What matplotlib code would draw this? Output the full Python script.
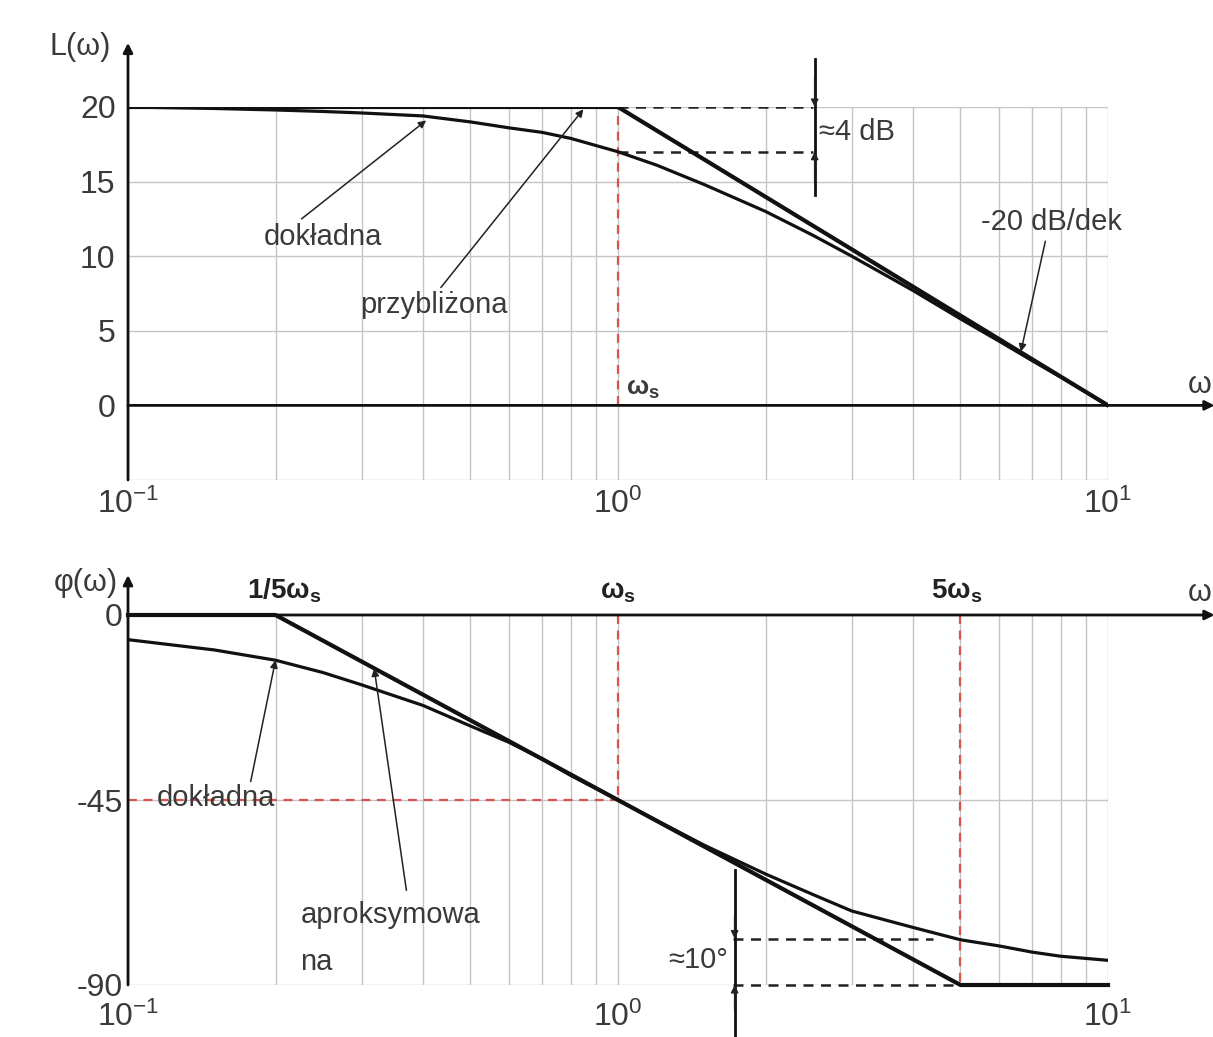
import matplotlib
matplotlib.use("Agg")
import matplotlib.pyplot as plt
from matplotlib.ticker import LogLocator, NullFormatter

plt.rcParams['font.family'] = ['Liberation Sans', 'DejaVu Sans']
plt.rcParams['mathtext.fontset'] = 'custom'
plt.rcParams['mathtext.rm'] = 'Liberation Sans'
plt.rcParams['mathtext.it'] = 'Liberation Sans:italic'
plt.rcParams['mathtext.bf'] = 'Liberation Sans:bold'
plt.rcParams['axes.unicode_minus'] = False

########################################################################
# values

omega = [0.1, 0.15, 0.2, 0.25, 0.3, 0.4, 0.5, 0.6, 0.7, 0.8, 1.0, 1.2, 1.5,
         2.0, 2.5, 3.0, 4.0, 5.0, 6.0, 7.0, 8.0, 10.0]
L_exact = [20.0, 19.9, 19.8, 19.7, 19.6, 19.4, 19.0, 18.6, 18.3, 17.9, 17.0,
           16.1, 14.8, 13.0, 11.4, 10.0, 7.7, 5.8, 4.3, 3.0, 1.9, 0.0]
phi_exact = [-6, -8.5, -11, -14, -17, -22, -27, -31, -35, -39, -45, -50, -56,
             -63, -68, -72, -76, -79, -80.5, -82, -83, -84]

omega_L_asym = [0.1, 1.0, 10.0]
L_asym = [20, 20, 0]

omega_phi_asym = [0.1, 0.2, 5.0, 10.0]
phi_asym = [0, 0, -90, -90]

L_ticks = [0, 5, 10, 15, 20]
phi_ticks = [-90, -45, 0]
w_ticks = [0.1, 1, 10]
w_labels = [r'$10^{-1}$', r'$10^{0}$', r'$10^{1}$']

########################################################################

TXT = '#3a3a3a'
GRID = '#c4c4c4'
RED = '#d9534f'
DASH = (0, (4, 3))


def setup_axes(ax, ylim, yticks, grid_y):
    ax.set_xscale('log')
    ax.set_xlim(0.1, 10)
    ax.set_ylim(*ylim)
    for s in ax.spines.values():
        s.set_visible(False)
    ax.xaxis.set_minor_locator(LogLocator(base=10, subs=range(2, 10)))
    ax.xaxis.set_minor_formatter(NullFormatter())
    ax.set_xticks(w_ticks)
    ax.set_xticklabels(w_labels)
    ax.set_yticks(yticks)
    ax.tick_params(which='both', length=0, labelsize=23, labelcolor=TXT)
    ax.tick_params(axis='x', pad=6)
    ax.tick_params(axis='y', pad=4)
    ax.grid(True, which='both', axis='x', color=GRID, lw=1, zorder=0.5)
    for y in grid_y:
        ax.axhline(y, color=GRID, lw=1, zorder=0.5)


def axis_arrow(ax, start, end):
    ax.annotate('', xy=end, xytext=start, annotation_clip=False,
                arrowprops=dict(arrowstyle='-|>', color='#111', lw=2,
                                mutation_scale=14, shrinkA=0, shrinkB=0))


def pointer(ax, text_xy, head_xy):
    ax.annotate('', xy=head_xy, xytext=text_xy, annotation_clip=False,
                arrowprops=dict(arrowstyle='-|>', color='#222', lw=1.1,
                                mutation_scale=11, shrinkA=0, shrinkB=0))


fig = plt.figure(figsize=(12.13, 10.37), dpi=100)
ax1 = fig.add_axes([128 / 1213, (1037 - 480) / 1037, 980 / 1213, 373 / 1037])
ax2 = fig.add_axes([128 / 1213, (1037 - 985) / 1037, 980 / 1213, 370 / 1037])

# ---------------- amplitude ----------------
setup_axes(ax1, (-5, 20), L_ticks, [-5, 5, 10, 15, 20])
ax1.tick_params(axis='y', pad=9)
ax1.plot([1, 1], [0, 20], ls=DASH, color=RED, lw=1.6, zorder=2)
ax1.plot(omega, L_exact, color='#111', lw=2.3, zorder=3)
ax1.plot(omega_L_asym, L_asym, color='#111', lw=3, zorder=3)
axis_arrow(ax1, (0.1, -5), (0.1, 24.3))
axis_arrow(ax1, (0.1, 0), (16.5, 0))

ax1.plot([1, 2.5], [20, 20], ls=DASH, color='#222', lw=1.8, zorder=2)
ax1.plot([1, 2.5], [17, 17], ls=DASH, color='#222', lw=1.8, zorder=2)
ax1.plot([2.52, 2.52], [23.2, 14.1], color='#111', lw=2, clip_on=False)
pointer(ax1, (2.52, 22.0), (2.52, 20))
pointer(ax1, (2.52, 15.0), (2.52, 17))
ax1.text(2.57, 18.3, '≈4 dB', fontsize=21, color=TXT, va='center')

ax1.text(0.08, 24.0, 'L(ω)', fontsize=22, color=TXT, ha='center', va='center',
         clip_on=False)
ax1.text(1.04, 1.1, r'$\mathbf{ω_s}$', fontsize=19, color=TXT, va='center')
fig.text(0.999, (1037 - 385) / 1037, 'ω', fontsize=22, color=TXT, ha='right',
         va='center')

ax1.text(0.25, 11.3, 'dokładna', fontsize=21, color=TXT, ha='center', va='center')
pointer(ax1, (0.226, 12.5), (0.406, 19.1))
ax1.text(0.42, 6.7, 'przybliżona', fontsize=21, color=TXT, ha='center', va='center')
pointer(ax1, (0.435, 7.9), (0.85, 19.85))
ax1.text(7.65, 12.3, '-20 dB/dek', fontsize=21, color=TXT, ha='center', va='center')
pointer(ax1, (7.45, 11.0), (6.64, 3.6))

# ---------------- phase ----------------
setup_axes(ax2, (-90, 0), phi_ticks, [-45, -90])
ax2.tick_params(axis='x', pad=12)
ax2.plot([1, 1], [0, -45], ls=DASH, color=RED, lw=1.6, zorder=2)
ax2.plot([5, 5], [0, -90], ls=DASH, color=RED, lw=1.6, zorder=2)
ax2.plot([0.1, 1], [-45, -45], ls=DASH, color=RED, lw=1.6, zorder=2)
ax2.plot(omega, phi_exact, color='#111', lw=2.3, zorder=3)
ax2.plot(omega_phi_asym, phi_asym, color='#111', lw=3, zorder=3,
         clip_on=False)
axis_arrow(ax2, (0.1, -90), (0.1, 9.7))
axis_arrow(ax2, (0.1, 0), (16.5, 0))

ax2.plot([1.72, 4.4], [-78.7, -78.7], ls=DASH, color='#222', lw=1.8, zorder=2)
ax2.plot([1.72, 5.0], [-90, -90], ls=DASH, color='#222', lw=1.8, zorder=2,
         clip_on=False)
ax2.plot([1.73, 1.73], [-62, -104], color='#111', lw=2, clip_on=False)
pointer(ax2, (1.73, -73.0), (1.73, -78.7))
pointer(ax2, (1.73, -96.0), (1.73, -90))
ax2.text(1.68, -84, '≈10°', fontsize=21, color=TXT, ha='right', va='center')

ax2.text(0.082, 7.8, 'φ(ω)', fontsize=22, color=TXT, ha='center', va='center',
         clip_on=False)
ax2.text(0.208, 2.5, r'$\mathbf{1/5ω_s}$', fontsize=20, color='#222', ha='center',
         va='bottom')
ax2.text(1.0, 2.5, r'$\mathbf{ω_s}$', fontsize=20, color='#222', ha='center',
         va='bottom')
ax2.text(4.9, 2.5, r'$\mathbf{5ω_s}$', fontsize=20, color='#222', ha='center',
         va='bottom')
fig.text(0.999, (1037 - 593) / 1037, 'ω', fontsize=22, color=TXT, ha='right',
         va='center')

ax2.text(0.151, -44.5, 'dokładna', fontsize=21, color=TXT, ha='center', va='center')
pointer(ax2, (0.178, -40.5), (0.2, -11.0))
ax2.text(0.225, -73, 'aproksymowa', fontsize=21, color=TXT, ha='left', va='center')
ax2.text(0.225, -84.5, 'na', fontsize=21, color=TXT, ha='left', va='center')
pointer(ax2, (0.37, -67), (0.318, -13.0))

fig.savefig('out.png', dpi=100)
